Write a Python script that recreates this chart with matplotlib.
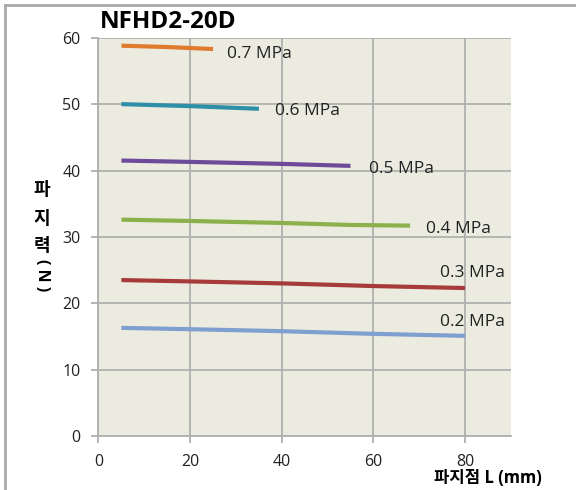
import matplotlib.pyplot as plt
from matplotlib.lines import Line2D

plt.rcParams['font.family'] = ['Open Sans', 'Noto Sans CJK KR', 'DejaVu Sans']

# datos
presiones = ['0.7 MPa', '0.6 MPa', '0.5 MPa', '0.4 MPa', '0.3 MPa', '0.2 MPa']
x_07 = [5, 15, 25]
y_07 = [58.8, 58.6, 58.3]
x_06 = [5, 20, 35]
y_06 = [50.0, 49.7, 49.3]
x_05 = [5, 20, 40, 55]
y_05 = [41.5, 41.3, 41.0, 40.7]
x_04 = [5, 20, 40, 55, 68]
y_04 = [32.6, 32.4, 32.1, 31.8, 31.7]
x_03 = [5, 20, 40, 60, 80]
y_03 = [23.5, 23.3, 23.0, 22.6, 22.3]
x_02 = [5, 20, 40, 60, 80]
y_02 = [16.3, 16.1, 15.8, 15.4, 15.1]
colores = ['#E07B2E', '#2F8EA8', '#6E4B9A', '#8CB04B', '#A63B39', '#7F9FD0']
xs = [x_07, x_06, x_05, x_04, x_03, x_02]
ys = [y_07, y_06, y_05, y_04, y_03, y_02]
# posicion de las etiquetas (x, y en datos)
pos_etiquetas = [(28, 57.5), (38.5, 49.0), (59, 40.3), (71.5, 31.2), (74.5, 24.6), (74.5, 17.2)]

fig = plt.figure(figsize=(5.76, 4.90), dpi=100)
ax = fig.add_axes([0.171, 0.110, 0.716, 0.813])
ax.set_facecolor('#ECEBE0')

for x, y, c in zip(xs, ys, colores):
    ax.plot(x, y, color=c, linewidth=3, solid_capstyle='butt')
for (px, py), txt in zip(pos_etiquetas, presiones):
    ax.text(px, py, txt, fontsize=12.5, color='#222222', va='center', ha='left')

ax.set_xlim(0, 90)
ax.set_ylim(0, 60)
ax.set_xticks([0, 20, 40, 60, 80])
ax.set_yticks([0, 10, 20, 30, 40, 50, 60])
ax.grid(True, color='#B0B0B0', linewidth=1.3)
ax.set_axisbelow(True)
for s in ['top', 'right']:
    ax.spines[s].set_visible(False)
for s in ['left', 'bottom']:
    ax.spines[s].set_color('#B0B0B0')
    ax.spines[s].set_linewidth(1.3)
ax.tick_params(colors='#B0B0B0', labelcolor='#222222', labelsize=11.5, length=5, width=1.3, pad=8)

# marco exterior (lineas gris arriba e izquierda)
fig.add_artist(Line2D([5/576, 1], [1 - 5/490, 1 - 5/490], color='#AAAAAA', linewidth=2))
fig.add_artist(Line2D([5/576, 5/576], [0, 1 - 5/490], color='#AAAAAA', linewidth=2))

# titulo
fig.text(100/576, 1 - 22/490, 'NFHD2-20D', fontsize=17.5, fontweight='bold', va='center', ha='left')

# etiqueta eje y: caracteres apilados
for yy, ch in zip([190, 219, 246], ['파', '지', '력']):
    fig.text(42/576, 1 - yy/490, ch, fontsize=13, fontweight='bold', ha='center', va='center')
fig.text(42/576, 1 - 275/490, '( N )', fontsize=11.5, fontweight='bold', rotation=270, ha='center', va='center')

# etiqueta eje x
fig.text(488/576, 1 - 478/490, '파지점 L (mm)', fontsize=12, fontweight='bold', ha='center', va='center')

fig.savefig('out.png')
